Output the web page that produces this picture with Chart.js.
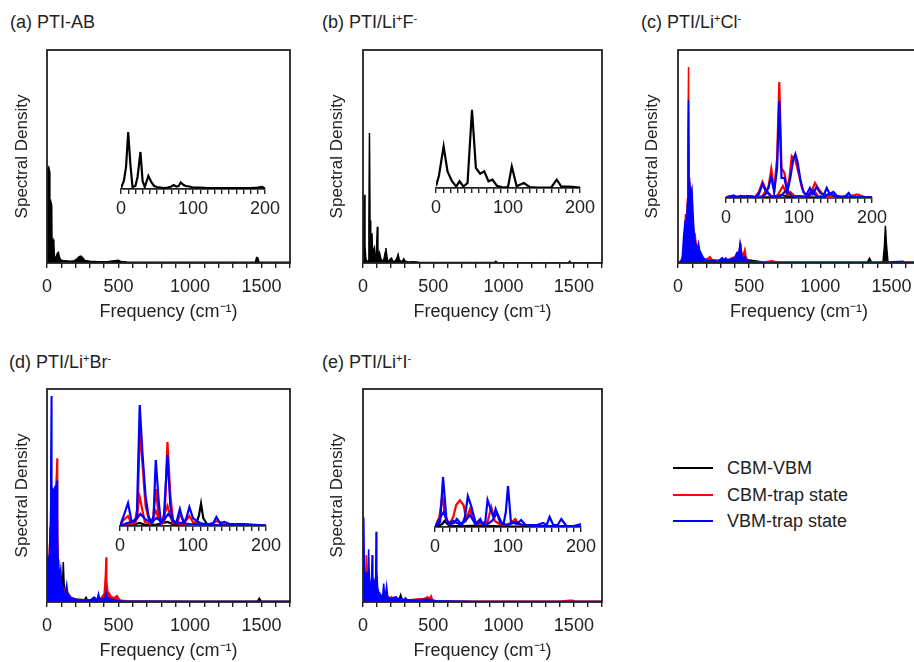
<!DOCTYPE html>
<html>
<head>
<meta charset="utf-8">
<script src="https://cdn.jsdelivr.net/npm/chart.js@4.4.0/dist/chart.umd.min.js"></script>
<style>
  html, body { margin:0; padding:0; background:#fff; }
  #fig { position:relative; width:914px; height:662px; overflow:hidden; font-family:"Liberation Sans", Arial, sans-serif; color:#222; }
  #fig canvas { position:absolute; }
  .ptitle { position:absolute; font-size:18px; line-height:20px; white-space:nowrap; }
  .ptitle sup { font-size:11px; vertical-align:6px; line-height:0; }
  .leg { position:absolute; left:673px; font-size:18px; line-height:20px; white-space:nowrap; display:flex; align-items:center; }
  .leg .sw { display:inline-block; width:40px; height:2px; margin-right:14px; }
</style>
</head>
<body>
<div id="fig">
  <div class="ptitle" style="left:10px; top:12px;">(a) PTI-AB</div>
  <div class="ptitle" style="left:322px; top:12px;">(b) PTI/Li<sup>+</sup>F<sup>-</sup></div>
  <div class="ptitle" style="left:641px; top:12px;">(c) PTI/Li<sup>+</sup>Cl<sup>-</sup></div>
  <div class="ptitle" style="left:9px; top:352px;">(d) PTI/Li<sup>+</sup>Br<sup>-</sup></div>
  <div class="ptitle" style="left:322px; top:352px;">(e) PTI/Li<sup>+</sup>I<sup>-</sup></div>
  <div class="leg" style="top:458px;"><span class="sw" style="background:#000;"></span>CBM-VBM</div>
  <div class="leg" style="top:485px;"><span class="sw" style="background:#ff0000;"></span>CBM-trap state</div>
  <div class="leg" style="top:511px;"><span class="sw" style="background:#0000ff;"></span>VBM-trap state</div>
</div>
<script>
// ---- data (frequency in cm-1, spectral density in arbitrary units) ----
// (a) PTI-AB
const aMainFreq   = [0, 1, 6, 12, 18, 20, 26, 33, 35, 42, 48, 52, 58, 65, 72, 80, 86, 95, 110, 130, 160, 190, 210, 225, 238, 250, 265, 300, 360, 430, 500, 515, 560, 650, 800, 1000, 1200, 1400, 1458, 1466, 1474, 1484, 1560, 1700];
const aMainCbmVbm = [0, 45, 44, 45, 43, 28, 29, 27, 10, 11, 9, 3, 2.5, 3, 4.5, 5, 3, 1.5, 1.2, 1, 0.8, 1, 2, 3, 3.2, 2.5, 1.2, 0.8, 0.6, 0.7, 1.3, 0.7, 0.5, 0.4, 0.3, 0.3, 0.3, 0.3, 0.4, 2.6, 2.4, 0.4, 0.3, 0.3];
const aInsetFreq   = [0, 4, 7, 10, 13, 16, 20, 23, 27, 30, 33, 38, 42, 46, 50, 55, 60, 65, 70, 73, 77, 80, 83, 87, 90, 95, 100, 110, 120, 130, 140, 150, 160, 170, 180, 190, 196, 200];
const aInsetCbmVbm = [1, 8, 22, 57, 25, 2, 3, 12, 37, 8, 2, 13, 7, 3, 2, 1.5, 1, 1.5, 2.5, 4, 2.5, 3, 6.5, 4, 3, 2.5, 1.5, 1.5, 1, 1, 1, 1, 1, 1, 1, 1.5, 2, 0.5];

// (b) PTI/Li+F-
const bMainFreq   = [0, 5, 10, 14, 20, 28, 36, 42, 46, 50, 55, 60, 64, 68, 75, 80, 86, 92, 98, 102, 106, 112, 118, 124, 132, 140, 150, 158, 163, 168, 175, 185, 195, 203, 210, 225, 240, 250, 258, 270, 282, 290, 298, 320, 360, 400, 500, 700, 935, 945, 955, 1200, 1462, 1470, 1478, 1700];
const bMainCbmVbm = [0, 10, 32, 8, 2, 0.5, 1, 20, 61, 20, 6, 13, 14, 4, 6, 7, 2, 1, 10, 17, 6, 3, 4.7, 3, 1, 1, 2, 5, 7, 4, 1, 1, 2, 2.3, 1, 0.6, 2, 4, 1.5, 0.8, 1, 2, 1, 0.5, 0.6, 0.3, 0.2, 0.2, 0.2, 0.8, 0.2, 0.1, 0.1, 0.8, 0.1, 0.1];
const bInsetFreq   = [0, 4, 10.6, 16, 22, 28, 32.7, 38, 43.8, 50, 55.4, 61.4, 67, 72.9, 78.4, 84.5, 93.7, 100, 105.3, 112, 122, 130, 140, 150, 160, 167.7, 174, 185, 193, 200];
const bInsetCbmVbm = [2, 12, 41.6, 16.6, 7, 1.5, 6.7, 1.5, 5, 78.3, 20, 14.3, 16.6, 6.7, 8.3, 2.3, 0.5, 1, 21.6, 1.7, 5, 1, 0.5, 0.5, 0.5, 8.3, 1.5, 1.5, 1, 0.5];

// (c) PTI/Li+Cl-
const cMainFreqK   = [0, 40, 70, 80, 100, 150, 300, 440, 600, 900, 1200, 1330, 1345, 1360, 1440, 1450, 1457, 1464, 1475, 1600, 1700];
const cMainCbmVbm  = [0, 2, 6, 10, 5, 2, 1, 2, 0.5, 0.3, 0.3, 0.3, 2.3, 0.3, 0.5, 8, 17.5, 9, 0.5, 0.3, 0.3];
const cMainFreqR   = [0, 20, 35, 45, 52, 58, 62, 66, 70, 74, 78, 82, 88, 95, 100, 108, 115, 121, 128, 135, 145, 160, 175, 195, 215, 225, 240, 280, 320, 350, 380, 400, 408, 418, 428, 436, 445, 455, 463, 470, 478, 490, 520, 600, 660, 700, 900, 1200, 1500, 1700];
const cMainCbmTrap = [0, 1, 3, 8, 23, 18, 24, 30, 60, 92, 40, 30, 36, 30, 22, 16, 12, 13, 9, 8, 5, 4, 2, 1.5, 2.5, 3, 1.5, 1.2, 2, 1.5, 2.5, 3, 4, 3, 5, 9, 6, 3, 5, 6.6, 3, 1, 0.6, 0.5, 1, 0.4, 0.3, 0.3, 0.3, 0.3];
const cMainFreqB   = [0, 20, 30, 40, 50, 56, 62, 66, 70, 74, 78, 84, 90, 98, 104, 110, 116, 121, 128, 136, 144, 152, 160, 167, 175, 190, 210, 240, 280, 310, 320, 335, 345, 370, 400, 415, 425, 432, 436, 442, 450, 460, 470, 480, 495, 560, 800, 1100, 1400, 1580, 1590, 1700];
const cMainVbmTrap = [0, 0.5, 3, 13, 20, 15, 22, 28, 50, 76.5, 38, 28, 33, 35, 26, 18, 12, 10, 8, 7, 9.4, 6, 5, 4, 3, 1.5, 1, 1.2, 0.8, 2.5, 1.2, 2.4, 1.5, 1.8, 2.5, 5, 4, 7, 9.2, 6, 3, 2, 3, 1.5, 0.8, 0.4, 0.2, 0.2, 0.2, 0.8, 0.2, 0.2];
const cInsetFreqK    = [0, 15, 30, 45, 60, 75, 90, 100, 120, 150, 200];
const cInsetCbmVbm   = [0.5, 1, 2, 0.5, 1, 3, 1, 2, 0.5, 0.5, 0.5];
const cInsetFreqR1   = [0, 5, 10, 20, 30, 40, 45, 50, 55, 58, 62, 66, 70, 73, 76, 80, 84, 87, 90, 95, 100, 104, 108, 113, 118, 122, 127, 132, 140, 150, 160, 170, 180, 190, 200];
const cInsetCbmTrap1 = [0.5, 2, 1, 1.5, 2, 1, 6, 16, 8, 10, 29, 8, 40, 116, 30, 25, 8, 20, 42, 38, 23, 10, 4, 3, 8, 15, 9, 4, 3, 2, 1.5, 2, 3.5, 1, 0.5];
const cInsetFreqR2   = [0, 20, 40, 50, 55, 60, 70, 78, 84, 88, 94, 105, 115, 120, 126, 140, 160, 200];
const cInsetCbmTrap2 = [0, 1, 1, 2, 8, 2, 2, 12, 3, 6, 2, 1, 2, 8, 2, 1, 0.5, 0.5];
const cInsetFreqB1   = [0, 5, 10, 15, 20, 25, 30, 40, 45, 50, 55, 58, 62, 66, 70, 73, 76, 80, 84, 88, 92, 95, 98, 102, 106, 110, 115, 119, 124, 129, 134, 138, 142, 147, 152, 158, 164, 168, 172, 180, 190, 200];
const cInsetVbmTrap1 = [0.5, 1, 2.5, 1, 2, 1, 2, 1, 4, 14, 6, 10, 21, 6, 30, 97, 20, 20, 6, 20, 38, 44, 36, 18, 6, 3, 10, 4, 11, 5, 3, 10, 4, 6, 2, 1, 2, 5, 1, 1, 1, 0.5];
const cInsetFreqB2   = [0, 20, 40, 50, 57, 63, 75, 83, 90, 100, 112, 118, 124, 135, 142, 150, 170, 200];
const cInsetVbmTrap2 = [0, 1, 0.5, 1, 6, 1, 2, 8, 2, 1.5, 1, 7, 1.5, 1, 5, 1, 0.5, 0.5];

// (d) PTI/Li+Br-
const dMainFreqK   = [0, 20, 40, 60, 80, 100, 108, 114, 120, 130, 160, 200, 260, 273, 286, 350, 500, 800, 1200, 1470, 1485, 1500, 1700];
const dMainCbmVbm  = [0, 5, 10, 15, 10, 6, 8, 18.8, 8, 3, 1.5, 1, 0.8, 2.2, 0.6, 0.5, 0.4, 0.3, 0.3, 0.3, 1.8, 0.3, 0.3];
const dMainFreqR   = [0, 10, 20, 28, 35, 45, 55, 62, 66, 70, 74, 80, 90, 100, 120, 140, 170, 200, 250, 300, 350, 380, 400, 408, 413, 418, 425, 437, 450, 470, 490, 510, 560, 700, 1000, 1400, 1700];
const dMainCbmTrap = [0, 15, 30, 50, 45, 50, 52, 55, 60, 67.5, 40, 14, 10, 8, 6, 5, 2, 1.5, 1.2, 1, 1.5, 2, 4, 12, 21, 10, 5, 4, 2.5, 2, 3, 1, 0.5, 0.3, 0.2, 0.2, 0.2];
const dMainFreqB   = [0, 4, 10, 16, 22, 26, 30, 34, 38, 42, 48, 55, 60, 65, 70, 74, 78, 82, 88, 96, 102, 110, 118, 126, 132, 138, 145, 155, 170, 190, 220, 260, 300, 330, 350, 360, 370, 390, 405, 413, 420, 440, 470, 520, 700, 1000, 1400, 1700];
const dMainVbmTrap = [0, 22, 18, 20, 35, 60, 96.7, 50, 53, 52, 53, 54, 52, 54, 57, 30, 20, 17, 12, 15.7, 9, 7, 5, 5, 6, 8.3, 4, 3, 2, 1.5, 1, 1, 0.8, 2.4, 1, 4, 1.2, 1.5, 2, 4.7, 2, 1.5, 1, 0.5, 0.3, 0.2, 0.2, 0.2];
const dInsetFreqK    = [0, 15, 27, 35, 50, 65, 75, 85, 95, 104, 108, 111, 114, 120, 140, 170, 200];
const dInsetCbmVbm   = [0, 1, 3, 1, 1.5, 4, 1, 2, 1, 2, 10, 22.4, 8, 1, 0.5, 0.5, 0.5];
const dInsetFreqR1   = [0, 5, 11, 16, 20, 24, 27, 31, 35, 40, 45, 49, 53, 57, 61, 65, 69, 73, 78, 83, 88, 95, 100, 108, 115, 125, 133, 140, 150, 165, 180, 200];
const dInsetCbmTrap1 = [0, 6, 10, 2, 3, 8, 97, 60, 20, 5, 3, 37, 10, 2, 5, 84, 30, 4, 3, 12, 3, 10, 4, 2, 1.5, 2, 5, 2, 1, 1, 1, 0.5];
const dInsetFreqR2   = [0, 10, 20, 27, 34, 42, 49, 56, 65, 72, 85, 100, 130, 160, 200];
const dInsetCbmTrap2 = [0, 2, 3, 29, 4, 2, 15, 3, 20, 3, 2, 1, 1, 0.5, 0.5];
const dInsetFreqB1   = [0, 5, 11, 16, 20, 23, 27, 31, 35, 39, 43, 46, 49, 53, 56, 60, 65, 69, 72, 77, 82, 87, 91, 95, 100, 105, 110, 116, 122, 128, 132, 137, 143, 150, 160, 171, 180, 190, 200];
const dInsetVbmTrap1 = [0, 10, 23, 4, 6, 8, 121, 70, 30, 10, 3, 10, 66, 25, 3, 8, 71, 20, 5, 3, 17, 3, 8, 19, 8, 5, 3, 2, 2, 3, 9, 3, 4, 2, 2, 2, 1.5, 1, 0.5];
const dInsetFreqB2   = [0, 10, 20, 28, 36, 44, 50, 58, 66, 75, 85, 95, 110, 130, 160, 200];
const dInsetVbmTrap2 = [0, 3, 5, 12, 6, 4, 8, 4, 12, 4, 3, 2, 1.5, 1, 0.5, 0.5];

// (e) PTI/Li+I-
const eMainFreqK   = [0, 20, 50, 100, 150, 200, 255, 268, 280, 350, 500, 800, 1200, 1700];
const eMainCbmVbm  = [0, 3, 4, 3, 2, 1.5, 1, 3.5, 1, 0.6, 0.4, 0.2, 0.2, 0.2];
const eMainFreqR   = [0, 10, 18, 24, 30, 40, 60, 80, 100, 120, 150, 180, 203, 220, 260, 300, 350, 400, 430, 460, 470, 485, 495, 520, 700, 1000, 1400, 1470, 1490, 1510, 1700];
const eMainCbmTrap = [0, 5, 10, 22, 5, 6, 5, 4, 6, 3, 2, 1.5, 2.5, 1.2, 1.5, 1, 1.2, 1.5, 1.5, 2.5, 1.5, 3, 1, 0.5, 0.3, 0.3, 0.3, 0.8, 0.8, 0.3, 0.3];
const eMainFreqB   = [0, 4, 7, 11, 16, 22, 28, 34, 40, 45, 50, 56, 60, 65, 70, 77, 84, 89, 93, 98, 104, 110, 120, 131, 140, 147, 155, 162, 168, 175, 186, 200, 215, 234, 250, 270, 290, 303, 315, 340, 370, 400, 430, 470, 520, 600, 800, 1100, 1400, 1700];
const eMainVbmTrap = [0, 15, 39.7, 12, 8, 14, 6, 10, 24.8, 12, 8, 6, 10, 22, 12, 8, 10, 5, 33, 15, 7, 5, 4, 3, 3, 8.6, 3, 4, 7.5, 3, 2, 1.5, 2, 2.5, 1.5, 1.5, 1.2, 2, 1, 1, 0.8, 1, 1.3, 1.2, 0.6, 0.5, 0.2, 0.2, 0.2, 0.2];
const eInsetFreqK    = [0, 10, 13, 20, 40, 60, 80, 100, 150, 200];
const eInsetCbmVbm   = [0, 3, 6, 1, 1, 1.5, 1, 0.5, 0.5, 0.5];
const eInsetFreqR1   = [0, 6, 10, 14, 20, 25, 29, 34, 39, 43, 48, 53, 58, 65, 72, 77, 82, 88, 95, 104, 110, 115, 125, 140, 155, 170, 185, 200];
const eInsetCbmTrap1 = [0, 10, 31, 10, 3, 10, 22, 26.7, 22, 8, 18, 8, 3, 4, 5, 20, 6, 3, 2, 4, 8, 2, 2, 1, 1, 1, 0.5, 0.5];
const eInsetFreqB1   = [0, 7, 11, 16, 21, 26, 30, 37, 41, 45, 50, 56, 62, 66, 69, 72, 77, 80, 83, 89, 94, 97, 100, 104, 112, 118, 124, 132, 140, 148, 153, 157, 162, 168, 173, 180, 190, 200];
const eInsetVbmTrap1 = [0, 5, 50, 5, 3, 4, 8, 2, 10, 31, 20, 3, 8, 2, 6, 27, 16, 10, 18, 5, 3, 15, 41, 5, 3, 7, 2, 2, 2, 4, 2, 10, 2, 2, 8, 1, 1, 3];
const eInsetFreqB2   = [0, 6, 12, 18, 25, 33, 40, 48, 55, 62, 70, 78, 85, 92, 100, 110, 120, 140, 160, 180, 200];
const eInsetVbmTrap2 = [0, 8, 15, 4, 6, 3, 5, 12, 3, 5, 2, 6, 14, 3, 2, 5, 2, 1, 1, 1, 0.5];

const MAIN_TICKS = [0, 500, 1000, 1500];
const INSET_TICKS = [0, 100, 200];

// ---- styling ----
const FAMILY = '"Liberation Sans", Arial, sans-serif';
const FONT = { family: FAMILY, size: 18 };
const FONT_V = { family: FAMILY, size: 17 };
const INK = '#222';
const COLORS = { 'CBM-VBM': '#000000', 'CBM-trap state': '#ff0000', 'VBM-trap state': '#0000ff' };
const ORDER = { 'CBM-VBM': 3, 'CBM-trap state': 2, 'VBM-trap state': 1 };

const framePlugin = {
  id: 'frame',
  afterDatasetsDraw(chart) {
    const { left, right, top, bottom } = chart.chartArea;
    const ctx = chart.ctx;
    ctx.save();
    ctx.strokeStyle = INK;
    ctx.lineWidth = 1.8;
    ctx.strokeRect(left, top, right - left, bottom - top);
    ctx.restore();
  }
};

const fig = document.getElementById('fig');
function addCanvas(left, top, w, h) {
  const c = document.createElement('canvas');
  c.width = w; c.height = h;
  c.style.left = left + 'px'; c.style.top = top + 'px';
  c.style.width = w + 'px'; c.style.height = h + 'px';
  fig.appendChild(c);
  return c;
}

function toDatasets(series, width, fill) {
  return series.map(([label, freq, vals]) => ({
    label,
    data: freq.map((f, k) => ({ x: f, y: vals[k] })),
    borderColor: COLORS[label],
    backgroundColor: COLORS[label],
    borderWidth: width,
    fill: fill ? 'origin' : false,
    pointRadius: 0,
    tension: 0,
    order: ORDER[label]
  }));
}

// main panel: box = canvas [left, top, w, h], area = plot frame [left, right, top, bottom]
function mainChart(box, area, series) {
  const [bx, by, bw, bh] = box;
  const [al, ar, at, ab] = area;
  new Chart(addCanvas(bx, by, bw, bh), {
    type: 'line',
    data: { datasets: toDatasets(series, 1.5, true) },
    options: {
      responsive: false, animation: false, events: [],
      layout: { padding: { left: 0, top: at - by, right: bx + bw - ar, bottom: 0 } },
      plugins: { legend: { display: false }, tooltip: { enabled: false } },
      scales: {
        x: {
          type: 'linear', min: 0, max: 1700,
          afterFit(s) { s.height = by + bh - ab; s.paddingLeft = 0; s.paddingRight = 0; },
          border: { display: false },
          grid: { display: true, drawOnChartArea: false, drawTicks: true, tickLength: 5, color: INK, lineWidth: 1.4 },
          ticks: { stepSize: 100, autoSkip: false, maxRotation: 0, padding: 8, color: INK, font: FONT,
                   callback: v => MAIN_TICKS.includes(v) ? String(v) : '' },
          title: { display: true, text: 'Frequency (cm⁻¹)', color: INK, font: FONT, padding: { top: 0, bottom: 0 } }
        },
        y: {
          min: 0, max: 100,
          afterFit(s) { s.width = al - bx; s.paddingTop = 0; s.paddingBottom = 0; },
          border: { display: false }, grid: { display: false }, ticks: { display: false },
          title: { display: true, text: 'Spectral Density', color: INK, font: FONT_V, padding: { top: 12, bottom: 0 } }
        }
      }
    },
    plugins: [framePlugin]
  });
}

// inset: x0/x200 = pixel of 0 and 200 cm-1, base = axis line, h = plot height
function insetChart(ins, series) {
  const { x0, x200, base, h } = ins;
  const padL = 16, padR = 20, padT = 4, axisH = 34;
  new Chart(addCanvas(x0 - padL, base - h - padT, (x200 - x0) + padL + padR, h + padT + axisH), {
    type: 'line',
    data: { datasets: toDatasets(series, 2.2, false) },
    options: {
      responsive: false, animation: false, events: [],
      layout: { padding: { left: padL, top: padT, right: padR, bottom: 0 } },
      plugins: { legend: { display: false }, tooltip: { enabled: false } },
      scales: {
        x: {
          type: 'linear', min: 0, max: 200,
          afterFit(s) { s.height = axisH; s.paddingLeft = 0; s.paddingRight = 0; },
          border: { display: true, color: INK, width: 1.8 },
          grid: { display: true, drawOnChartArea: false, drawTicks: true, tickLength: 5, color: INK, lineWidth: 1.4 },
          ticks: { stepSize: 10, autoSkip: false, maxRotation: 0, padding: 4, color: INK, font: FONT,
                   callback: v => INSET_TICKS.includes(v) ? String(v) : '' }
        },
        y: { display: false, min: 0, max: h,
             afterFit(s) { s.paddingTop = 0; s.paddingBottom = 0; } }
      }
    }
  });
}

// (a)
mainChart([0, 0, 305, 323], [47, 290, 50, 263], [['CBM-VBM', aMainFreq, aMainCbmVbm]]);
insetChart({ x0: 121, x200: 265, base: 189, h: 60 }, [['CBM-VBM', aInsetFreq, aInsetCbmVbm]]);
// (b)
mainChart([315, 0, 305, 323], [363, 602, 50, 263], [['CBM-VBM', bMainFreq, bMainCbmVbm]]);
insetChart({ x0: 436, x200: 580, base: 188, h: 82 }, [['CBM-VBM', bInsetFreq, bInsetCbmVbm]]);
// (c)
mainChart([630, 0, 305, 323], [678, 920, 50, 263], [
  ['CBM-VBM', cMainFreqK, cMainCbmVbm],
  ['CBM-trap state', cMainFreqR, cMainCbmTrap],
  ['VBM-trap state', cMainFreqB, cMainVbmTrap]
]);
insetChart({ x0: 726, x200: 872, base: 198, h: 122 }, [
  ['CBM-VBM', cInsetFreqK, cInsetCbmVbm],
  ['CBM-trap state', cInsetFreqR1, cInsetCbmTrap1],
  ['CBM-trap state', cInsetFreqR2, cInsetCbmTrap2],
  ['VBM-trap state', cInsetFreqB1, cInsetVbmTrap1],
  ['VBM-trap state', cInsetFreqB2, cInsetVbmTrap2]
]);
// (d)
mainChart([0, 340, 305, 322], [47, 290, 389, 602], [
  ['CBM-VBM', dMainFreqK, dMainCbmVbm],
  ['CBM-trap state', dMainFreqR, dMainCbmTrap],
  ['VBM-trap state', dMainFreqB, dMainVbmTrap]
]);
insetChart({ x0: 120, x200: 266, base: 526, h: 126 }, [
  ['CBM-VBM', dInsetFreqK, dInsetCbmVbm],
  ['CBM-trap state', dInsetFreqR1, dInsetCbmTrap1],
  ['CBM-trap state', dInsetFreqR2, dInsetCbmTrap2],
  ['VBM-trap state', dInsetFreqB1, dInsetVbmTrap1],
  ['VBM-trap state', dInsetFreqB2, dInsetVbmTrap2]
]);
// (e)
mainChart([315, 340, 305, 322], [363, 602, 389, 602], [
  ['CBM-VBM', eMainFreqK, eMainCbmVbm],
  ['CBM-trap state', eMainFreqR, eMainCbmTrap],
  ['VBM-trap state', eMainFreqB, eMainVbmTrap]
]);
insetChart({ x0: 435, x200: 581, base: 527, h: 56 }, [
  ['CBM-VBM', eInsetFreqK, eInsetCbmVbm],
  ['CBM-trap state', eInsetFreqR1, eInsetCbmTrap1],
  ['VBM-trap state', eInsetFreqB1, eInsetVbmTrap1],
  ['VBM-trap state', eInsetFreqB2, eInsetVbmTrap2]
]);
</script>
</body>
</html>
